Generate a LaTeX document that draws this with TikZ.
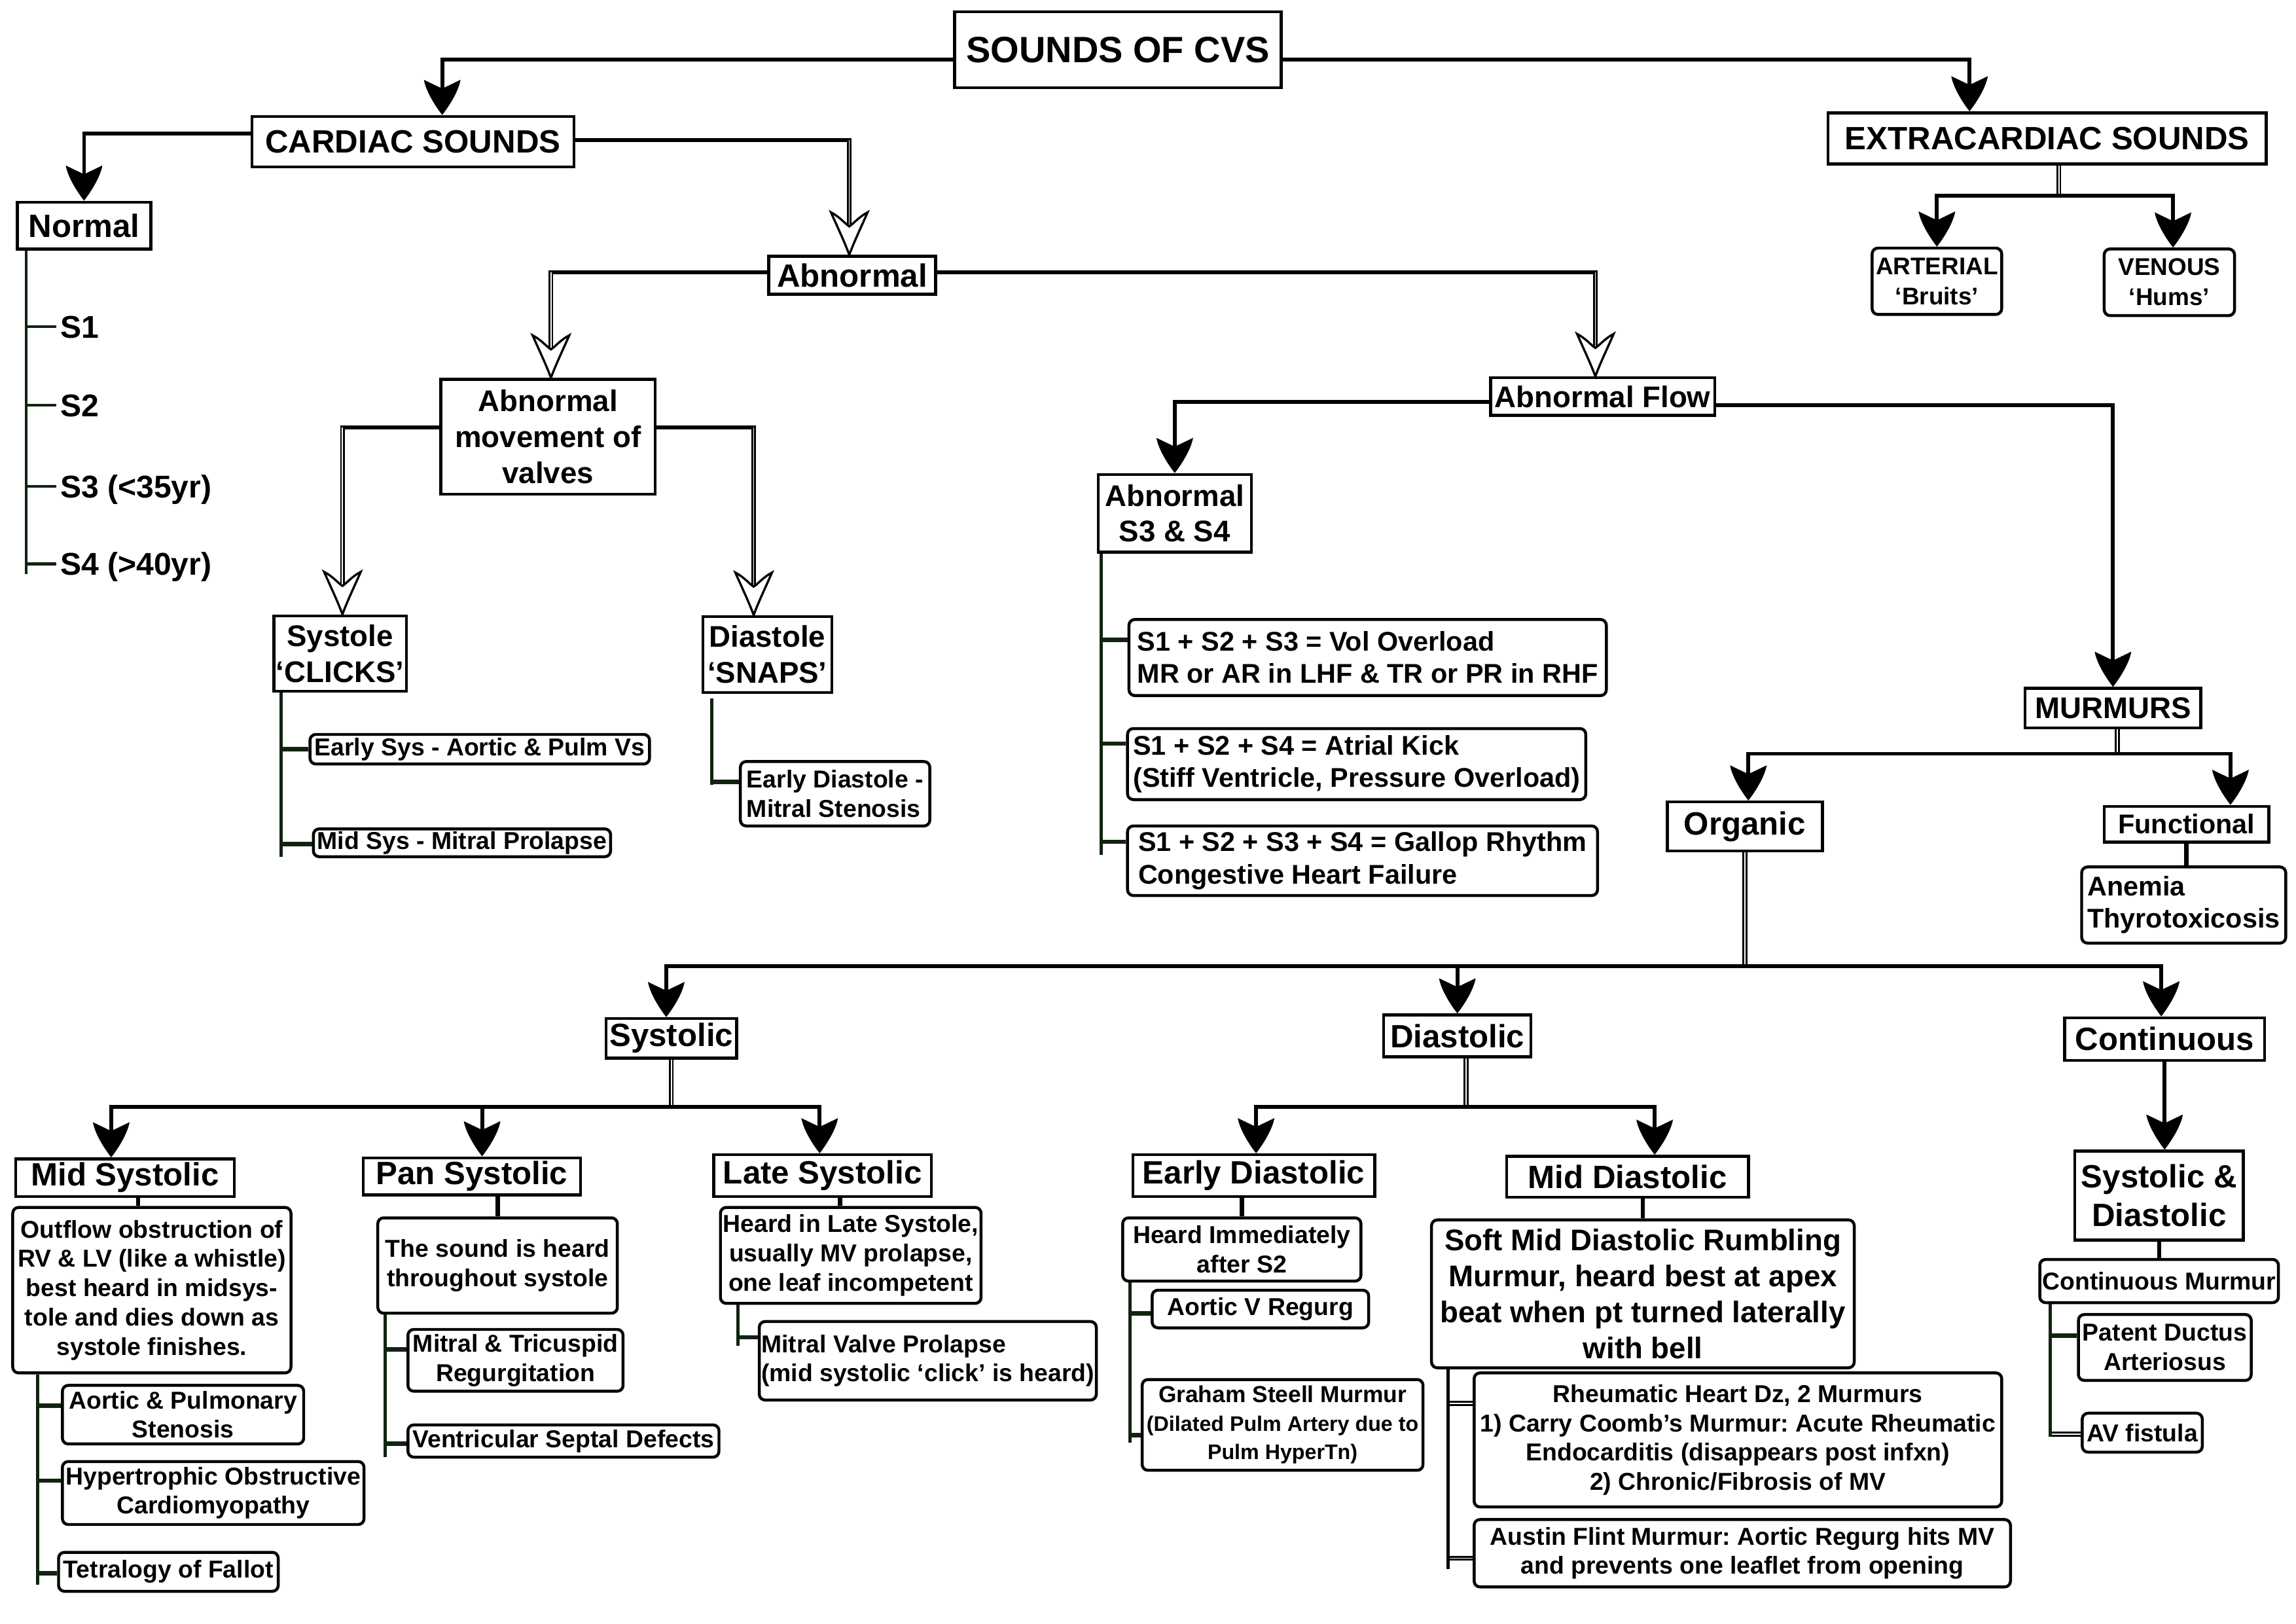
\documentclass[tikz,border=0pt]{standalone}
\usepackage{fontspec}
\setmainfont{Liberation Sans}
\usetikzlibrary{arrows.meta}
\definecolor{tickc}{RGB}{16,36,16}
\frenchspacing

\pgfdeclarearrow{
  name = CurvSt,
  parameters = {\the\pgfarrowlength,\the\pgfarrowwidth},
  setup code = {
    \pgfarrowssettipend{0pt}
    \pgfarrowssetbackend{-\pgfarrowlength}
    \pgfarrowssetlineend{-.7\pgfarrowlength}
    \pgfarrowssetvisualbackend{-.75\pgfarrowlength}
    \pgfarrowssavethe\pgfarrowlength
    \pgfarrowssavethe\pgfarrowwidth
  },
  drawing code = {
    \pgfsetfillcolor{black}
    \pgfpathmoveto{\pgfqpoint{0pt}{0pt}}
    \pgfpathcurveto{\pgfqpoint{-.3\pgfarrowlength}{.225\pgfarrowwidth}}{\pgfqpoint{-.7\pgfarrowlength}{.45\pgfarrowwidth}}{\pgfqpoint{-\pgfarrowlength}{.5\pgfarrowwidth}}
    \pgfpathcurveto{\pgfqpoint{-.9\pgfarrowlength}{.3\pgfarrowwidth}}{\pgfqpoint{-.8\pgfarrowlength}{.1\pgfarrowwidth}}{\pgfqpoint{-.75\pgfarrowlength}{0pt}}
    \pgfpathcurveto{\pgfqpoint{-.8\pgfarrowlength}{-.1\pgfarrowwidth}}{\pgfqpoint{-.9\pgfarrowlength}{-.3\pgfarrowwidth}}{\pgfqpoint{-\pgfarrowlength}{-.5\pgfarrowwidth}}
    \pgfpathcurveto{\pgfqpoint{-.7\pgfarrowlength}{-.45\pgfarrowwidth}}{\pgfqpoint{-.3\pgfarrowlength}{-.225\pgfarrowwidth}}{\pgfqpoint{0pt}{0pt}}
    \pgfpathclose
    \pgfusepathqfill
  },
  defaults = {length = 24pt, width = 25pt}
}

\pgfdeclarearrow{
  name = OpenSt,
  parameters = {\the\pgfarrowlength,\the\pgfarrowwidth},
  setup code = {
    \pgfarrowssettipend{0pt}
    \pgfarrowssetbackend{-\pgfarrowlength}
    \pgfarrowssetlineend{-.67\pgfarrowlength}
    \pgfarrowssetvisualbackend{-.67\pgfarrowlength}
    \pgfarrowssavethe\pgfarrowlength
    \pgfarrowssavethe\pgfarrowwidth
  },
  drawing code = {
    \pgfsetfillcolor{white}
    \pgfsetstrokecolor{black}
    \pgfsetlinewidth{1.5pt}
    \pgfsetmiterjoin
    \pgfpathmoveto{\pgfqpoint{0pt}{0pt}}
    \pgfpathcurveto{\pgfqpoint{-.35\pgfarrowlength}{.15\pgfarrowwidth}}{\pgfqpoint{-.7\pgfarrowlength}{.35\pgfarrowwidth}}{\pgfqpoint{-\pgfarrowlength}{.5\pgfarrowwidth}}
    \pgfpathcurveto{\pgfqpoint{-.9\pgfarrowlength}{.27\pgfarrowwidth}}{\pgfqpoint{-.72\pgfarrowlength}{.1\pgfarrowwidth}}{\pgfqpoint{-.67\pgfarrowlength}{0pt}}
    \pgfpathcurveto{\pgfqpoint{-.72\pgfarrowlength}{-.1\pgfarrowwidth}}{\pgfqpoint{-.9\pgfarrowlength}{-.27\pgfarrowwidth}}{\pgfqpoint{-\pgfarrowlength}{-.5\pgfarrowwidth}}
    \pgfpathcurveto{\pgfqpoint{-.7\pgfarrowlength}{-.35\pgfarrowwidth}}{\pgfqpoint{-.35\pgfarrowlength}{-.15\pgfarrowwidth}}{\pgfqpoint{0pt}{0pt}}
    \pgfpathclose
    \pgfusepathqfillstroke
  },
  defaults = {length = 29pt, width = 25pt}
}

\tikzset{
  box/.style={draw, line width=2pt, inner sep=1pt, align=center, fill=white, text=black},
  rbox/.style={rounded corners=4pt},
  h25/.style={font=\bfseries\fontsize{25pt}{30pt}\selectfont},
  h22/.style={font=\bfseries\fontsize{22pt}{26pt}\selectfont},
  h20/.style={font=\bfseries\fontsize{20.4pt}{24.5pt}\selectfont},
  t18/.style={font=\bfseries\fontsize{18.5pt}{22pt}\selectfont},
  t16/.style={font=\bfseries\fontsize{16.7pt}{20pt}\selectfont},
  t16a/.style={font=\bfseries\fontsize{16.5pt}{20.6pt}\selectfont},
  lbl/.style={font=\bfseries\fontsize{21.5pt}{26pt}\selectfont, inner sep=0pt, anchor=west, text height=15.4pt, text depth=0pt},
  ln/.style={draw=black, line width=2.6pt},
  arr/.style={ln, -{CurvSt}},
  oarr/.style={draw=black, double=white, double distance=0.7pt, line width=1.25pt, -{OpenSt}},
  stem/.style={draw=black, double=white, double distance=1pt, line width=1.15pt},
  cn/.style={draw=black, line width=3pt},
  trunk/.style={draw=tickc, line width=2.2pt},
  tick/.style={draw=tickc, line width=3pt},
  ntick/.style={draw=tickc, line width=2pt},
  dtick/.style={draw=black, double=white, double distance=0.8pt, line width=1.25pt}
}

\newcommand\bx[7][]{%
  \pgfmathsetmacro\bxcx{(#3+#5)/2}%
  \pgfmathsetmacro\bxcy{(#4+#6)/2}%
  \pgfmathsetmacro\bxw{#5-#3}%
  \pgfmathsetmacro\bxh{#6-#4}%
  \node[box,#1,minimum width=\bxw pt,minimum height=\bxh pt] (#2) at (\bxcx,\bxcy) {#7};}
\newcommand\tk[4][tick]{\path ([yshift=#4pt]#3.west) coordinate (#3-t); \draw[#1] (#2 |- #3-t) -- (#3-t);}
\newcommand\oc[2]{\draw[ln, shorten >=-1.6pt] (#1) -- (#1 -| #2); \draw[oarr] (#1 -| #2) -- (#2);}

\begin{document}
\begin{tikzpicture}[x=1pt,y=-1pt]
\fill[white] (0,0) rectangle (1568,1108.6);
\useasboundingbox (0,0) rectangle (1568,1108.6);

% ---------- nodes ----------
\bx[h25]{title}{652}{8}{875}{60}{SOUNDS OF CVS}
\bx[h22]{cs}{172}{79.5}{392}{114}{CARDIAC SOUNDS}
\bx[h22]{ex}{1248.5}{77}{1547.6}{112}{EXTRACARDIAC SOUNDS}
\bx[h22]{nrm}{11.8}{138}{103}{170}{Normal}
\bx[h22]{abn}{525}{175}{639}{201}{Abnormal}
\bx[t16a,rbox]{art}{1278.5}{169.4}{1367}{214.7}{ARTERIAL\\‘Bruits’}
\bx[t16a,rbox]{ven}{1437}{170}{1526}{215.5}{VENOUS\\‘Hums’}
\bx[h20]{amv}{301}{259}{447.5}{337.5}{Abnormal\\movement of\\valves}
\bx[h20]{af}{1018}{258}{1171}{283.5}{Abnormal Flow}
\bx[h20]{s34}{750}{324}{854.5}{377}{Abnormal\\S3 \& S4}
\bx[h20]{mur}{1383}{470}{1503}{497}{MURMURS}
\bx[h20]{sys}{187}{420.5}{277.5}{472}{Systole\\‘CLICKS’}
\bx[h20]{dia}{480}{421}{568}{473}{Diastole\\‘SNAPS’}
\bx[t16,rbox]{esys}{211.7}{501.5}{443.6}{521.7}{Early Sys - Aortic \& Pulm Vs}
\bx[t16,rbox]{msys}{214}{566}{417}{585}{Mid Sys - Mitral Prolapse}
\bx[t16,rbox,align=left]{edia}{505.6}{520}{635}{564}{Early Diastole -\\Mitral Stenosis}
\bx[t18,rbox,align=left]{v1}{771}{423}{1097}{475}{S1 + S2 + S3 = Vol Overload\\MR or AR in LHF \& TR or PR in RHF}
\bx[t18,rbox,align=left]{v2}{770}{497.5}{1083}{546}{S1 + S2 + S4 = Atrial Kick\\(Stiff Ventricle, Pressure Overload)}
\bx[t18,rbox,align=left]{v3}{770}{564}{1091}{611.5}{S1 + S2 + S3 + S4 = Gallop Rhythm\\Congestive Heart Failure}
\bx[h22]{org}{1138.6}{547.6}{1244.6}{581}{Organic}
\bx[t18]{fun}{1437}{550.6}{1549.5}{575}{Functional}
\bx[t18,rbox,align=left]{ane}{1421.6}{592}{1561}{644}{Anemia\\Thyrotoxicosis}
\bx[h22]{sysl}{414}{695.5}{503}{722.5}{Systolic}
\bx[h22]{dial}{945}{693}{1045.5}{721.7}{Diastolic}
\bx[h22]{con}{1410}{695}{1546.5}{724}{Continuous}
\bx[h22]{mids}{10.7}{791.3}{160}{817}{Mid Systolic}
\bx[h22]{pans}{248}{790.6}{396.5}{816}{Pan Systolic}
\bx[h22]{lats}{487.5}{788.5}{636}{817}{Late Systolic}
\bx[h22]{eds}{773.6}{788.5}{938.8}{817}{Early Diastolic}
\bx[h22]{mds}{1029}{789.5}{1194}{817.6}{Mid Diastolic}
\bx[h22]{sd}{1417}{786}{1532}{846.7}{Systolic \&\\Diastolic}
\bx[t16,rbox]{ob}{8.7}{824.5}{198.7}{937.5}{Outflow obstruction of\\RV \& LV (like a whistle)\\best heard in midsys-\\tole and dies down as\\systole finishes.}
\bx[t16,rbox]{aps}{42.6}{946}{207.4}{986}{Aortic \& Pulmonary\\Stenosis}
\bx[t16,rbox]{hoc}{42.6}{998}{248.6}{1041}{Hypertrophic Obstructive\\Cardiomyopathy}
\bx[t16,rbox]{tof}{40}{1060}{190}{1086.6}{Tetralogy of Fallot}
\bx[t16,rbox]{snd}{258}{831.6}{421.6}{896.7}{The sound is heard\\throughout systole}
\bx[t16,rbox]{mtr}{278.6}{907.8}{425.5}{950}{Mitral \& Tricuspid\\Regurgitation}
\bx[t16,rbox]{vsd}{278.6}{973}{491}{995}{Ventricular Septal Defects}
\bx[t16,rbox]{hls}{492}{824.5}{670}{890}{Heard in Late Systole,\\usually MV prolapse,\\one leaf incompetent}
\bx[t16,rbox,align=left]{mvp}{518.5}{902.4}{748.7}{956}{Mitral Valve Prolapse\\(mid systolic ‘click’ is heard)}
\bx[t16,rbox]{hi}{766.7}{831.6}{929.4}{874.8}{Heard Immediately\\after S2}
\bx[t16,rbox]{avr}{786.8}{881}{934.7}{906.7}{Aortic V Regurg}
\bx[rbox,font=\bfseries\fontsize{15.8pt}{19.5pt}\selectfont]{gs}{780}{942}{971.8}{1004}{Graham Steell Murmur\\\fontsize{14.4pt}{19pt}\selectfont(Dilated Pulm Artery due to\\\fontsize{14.4pt}{19pt}\selectfont Pulm HyperTn)}
\bx[h20,rbox]{soft}{977.6}{833}{1266.3}{934}{Soft Mid Diastolic Rumbling\\Murmur, heard best at apex\\beat when pt turned laterally\\with bell}
\bx[t16,rbox]{rhd}{1006.7}{937.5}{1367}{1029}{Rheumatic Heart Dz, 2 Murmurs\\1) Carry Coomb’s Murmur: Acute Rheumatic\\Endocarditis (disappears post infxn)\\2) Chronic/Fibrosis of MV}
\bx[t16,rbox]{afm}{1006.7}{1037.6}{1373}{1083.6}{Austin Flint Murmur: Aortic Regurg hits MV\\and prevents one leaflet from opening}
\bx[t16,rbox]{cm}{1393}{860}{1556}{889.5}{Continuous Murmur}
\bx[t16,rbox]{pda}{1419.4}{897.6}{1537.4}{942.6}{Patent Ductus\\Arteriosus}
\bx[t16,rbox]{avf}{1422}{965}{1504}{991.6}{AV fistula}

\node[lbl] (s1) at (41,223) {S1};
\node[lbl] (s2) at (41,276.6) {S2};
\node[lbl] (s3) at (41,332) {S3 (<35yr)};
\node[lbl] (s4) at (41,385) {S4 (>40yr)};

% ---------- filled-arrow connectors ----------
\draw[arr] ([yshift=-6.6pt]title.west) -| ([xshift=20pt]cs.north);
\draw[arr] ([yshift=-6.6pt]title.east) -| ([xshift=-53pt]ex.north);
\draw[arr] ([yshift=5.75pt]cs.west) -| (nrm.north);
\draw[arr] ([yshift=-3.85pt]af.west) -| (s34.north);
\draw[arr] ([yshift=-5.85pt]af.east) -| (mur.north);

% ---------- open-arrow connectors ----------
\path ([yshift=1.25pt]cs.east) coordinate (csR) ([xshift=-2pt]abn.north) coordinate (abnT);
\oc{csR}{abnT}
\path ([yshift=2pt]abn.west) coordinate (abnL) ([xshift=2pt]amv.north) coordinate (amvT);
\oc{abnL}{amvT}
\path ([yshift=2pt]abn.east) coordinate (abnR) ([xshift=-5pt]af.north) coordinate (afT);
\oc{abnR}{afT}
\path ([yshift=6.25pt]amv.west) coordinate (amvL) ([xshift=1.6pt]sys.north) coordinate (sysT);
\oc{amvL}{sysT}
\path ([yshift=6.25pt]amv.east) coordinate (amvR) ([xshift=-9.3pt]dia.north) coordinate (diaT);
\oc{amvR}{diaT}

% ---------- branching trees ----------
\path ([xshift=8pt]ex.south) coordinate (exS) ([yshift=-20.6pt]exS) coordinate (jE);
\draw[stem] (exS) -- (jE);
\draw[arr] (jE) -| (art.north);
\draw[arr] (jE) -| ([xshift=2.5pt]ven.north);

\path ([xshift=3pt]mur.south) coordinate (murS) ([yshift=-16.7pt]murS) coordinate (jM);
\draw[stem] (murS) -- (jM);
\draw[arr] (jM) -| ([xshift=2.4pt]org.north);
\draw[arr] (jM) -| ([xshift=30pt]fun.north);

\path (org.south) coordinate (orgS) ([yshift=-77.8pt]orgS) coordinate (jO);
\draw[stem] (orgS) -- (jO);
\draw[arr] (jO) -| ([xshift=-3.5pt]sysl.north);
\draw[arr] (jO) -| (dial.north);
\draw[arr] (jO) -| ([xshift=-2.3pt]con.north);

\path (sysl.south) coordinate (sysS) ([yshift=-32.5pt]sysS) coordinate (jS);
\draw[stem] (sysS) -- (jS);
\draw[arr] (jS) -| ([xshift=-9.4pt]mids.north);
\draw[arr] (jS) -| ([xshift=7pt]pans.north);
\draw[arr] (jS) -| ([xshift=-2pt]lats.north);

\path ([xshift=6pt]dial.south) coordinate (dialS) ([yshift=-33.3pt]dialS) coordinate (jD);
\draw[stem] (dialS) -- (jD);
\draw[arr] (jD) -| ([xshift=1.6pt]eds.north);
\draw[arr] (jD) -| ([xshift=18.5pt]mds.north);

\draw[arr] (con.south) -- (con.south |- sd.north);

% ---------- plain connectors ----------
\draw[cn] (fun.south) -- (fun.south |- ane.north);
\path ([xshift=9pt]mids.south) coordinate (msS);
\draw[cn] (msS) -- (msS |- ob.north);
\draw[cn] (snd.north |- pans.south) -- (snd.north);
\path ([xshift=12pt]lats.south) coordinate (lsS);
\draw[cn] (lsS) -- (lsS |- hls.north);
\draw[cn] (hi.north |- eds.south) -- (hi.north);
\draw[cn] (soft.north |- mds.south) -- (soft.north);
\draw[cn] (sd.south) -- (sd.south |- cm.north);

% ---------- lists ----------
\path ([xshift=7.2pt]nrm.south west) coordinate (nT);
\draw[trunk, line width=1.6pt] (nT) -- (nT |- s4.west) -- ++(0,7);
\foreach \s in {s1,s2,s3,s4} {\draw[ntick] (nT |- \s.west) -- ([xshift=-2.5pt]\s.west);}

\path ([xshift=6pt]sys.south west) coordinate (sT);
\tk{sT}{esys}{0}
\tk{sT}{msys}{-1}
\draw[trunk] (sT) -- (sT |- msys-t) -- ++(0,8.5);

\path ([xshift=7pt,yshift=-3pt]dia.south west) coordinate (dT);
\tk{dT}{edia}{8}
\draw[trunk] (dT) -- (dT |- edia-t) -- ++(0,2);

\path ([xshift=3pt]s34.south west) coordinate (aT);
\tk{aT}{v1}{12}
\tk{aT}{v2}{14}
\tk{aT}{v3}{13}
\draw[trunk] (aT) -- (aT |- v3-t) -- ++(0,9);

\path ([xshift=18pt]ob.south west) coordinate (oT);
\tk{oT}{aps}{6}
\tk{oT}{hoc}{8.5}
\tk{oT}{tof}{-1}
\draw[trunk] (oT) -- (oT |- tof-t) -- ++(0,8);

\path ([xshift=6pt]snd.south west) coordinate (pT);
\tk{pT}{mtr}{7.6}
\tk{pT}{vsd}{-1.8}
\draw[trunk] (pT) -- (pT |- vsd-t) -- ++(0,9);

\path ([xshift=13pt]hls.south west) coordinate (lT);
\tk{lT}{mvp}{16}
\draw[trunk] (lT) -- (lT |- mvp-t) -- ++(0,5.7);

\path ([xshift=6pt]hi.south west) coordinate (hT);
\tk{hT}{avr}{-3}
\tk{hT}{gs}{-7}
\draw[trunk] (hT) -- (hT |- gs-t) -- ++(0,5);

\path ([xshift=12.4pt]soft.south west) coordinate (mT);
\tk[dtick]{mT}{rhd}{25}
\tk[dtick]{mT}{afm}{-3.4}
\draw[trunk, draw=black] (mT) -- (mT |- afm-t) -- ++(0,7.6);

\path ([xshift=8pt]cm.south west) coordinate (cT);
\tk{cT}{pda}{8}
\tk[dtick]{cT}{avf}{-1}
\draw[trunk] (cT) -- (cT |- avf-t) -- ++(0,2);
\end{tikzpicture}
\end{document}
